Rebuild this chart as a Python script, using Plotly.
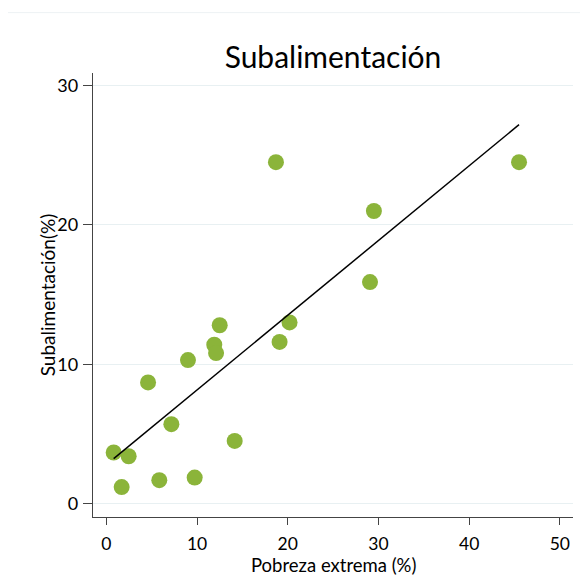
import numpy as np
import plotly.graph_objects as go

pobreza_extrema = [0.81, 2.46, 1.69, 5.84, 9.74, 14.15, 7.17, 18.7, 29.5, 29.07,
                   45.5, 20.2, 4.6, 9.0, 11.9, 12.1, 12.5, 19.1]
subalimentacion = [3.67, 3.40, 1.19, 1.68, 1.87, 4.50, 5.7, 24.5, 21.0, 15.9,
                   24.5, 13.0, 8.7, 10.3, 11.4, 10.8, 12.8, 11.6]
x_ticks = [0, 10, 20, 30, 40, 50]
y_ticks = [0, 10, 20, 30]

x = np.array(pobreza_extrema)
y = np.array(subalimentacion)
slope, intercept = np.polyfit(x, y, 1)
x_line = np.array([x.min(), x.max()])
y_line = slope * x_line + intercept

FONT = "Lato"
# page has an 8px body margin, so the figure is 580x580 drawn at offset (8, 8)
W = H = 580
fig = go.Figure()
fig.add_trace(go.Scatter(x=x, y=y, mode="markers",
                         marker=dict(size=16, color="#8BB43A", line=dict(width=0)),
                         showlegend=False, hoverinfo="x+y"))
fig.add_trace(go.Scatter(x=x_line, y=y_line, mode="lines",
                         line=dict(color="black", width=1.5),
                         showlegend=False, hoverinfo="skip"))

fig.update_layout(
    width=W, height=H,
    margin=dict(l=85, r=15, t=65, b=71, autoexpand=False),
    paper_bgcolor="white", plot_bgcolor="white",
    font=dict(family=FONT, color="black"),
    title=dict(text="Subalimentación", x=0.5, xref="paper", xanchor="center",
               y=1 - 49 / H, yref="container", yanchor="middle",
               font=dict(family=FONT, size=30, color="black")),
    xaxis=dict(range=[-1.47, 51.45], tickvals=x_ticks, ticks="outside", ticklen=7,
               tickcolor="#444", tickwidth=1.3, showgrid=False, zeroline=False,
               showline=True, linecolor="#444", linewidth=1.3, automargin=False,
               tickfont=dict(size=17.5, family=FONT), ticklabelstandoff=4),
    yaxis=dict(range=[-0.96, 30.9], tickvals=y_ticks, ticks="outside", ticklen=9,
               tickcolor="#444", tickwidth=1.3, showgrid=True, gridcolor="#E8F0F2",
               gridwidth=1, zeroline=False, automargin=False,
               showline=True, linecolor="#444", linewidth=1.3,
               tickfont=dict(size=18, family=FONT), ticklabelstandoff=1),
    annotations=[
        dict(text="Pobreza extrema (%)", xref="paper", yref="paper", x=0.5, y=0,
             xanchor="center", yanchor="middle", yshift=-47.5, showarrow=False,
             font=dict(size=18.5, family=FONT, color="black")),
        dict(text="Subalimentación(%)", xref="paper", yref="paper", x=0, y=0.5,
             xanchor="center", yanchor="middle", xshift=-45.7, textangle=-90,
             showarrow=False, font=dict(size=19, family=FONT, color="black")),
    ],
    shapes=[dict(type="line", xref="paper", yref="paper", x0=-0.179, x1=1.04,
                 y0=1.136, y1=1.136, line=dict(color="#EEF2F4", width=1))],
)

fig.write_html("out.html")
